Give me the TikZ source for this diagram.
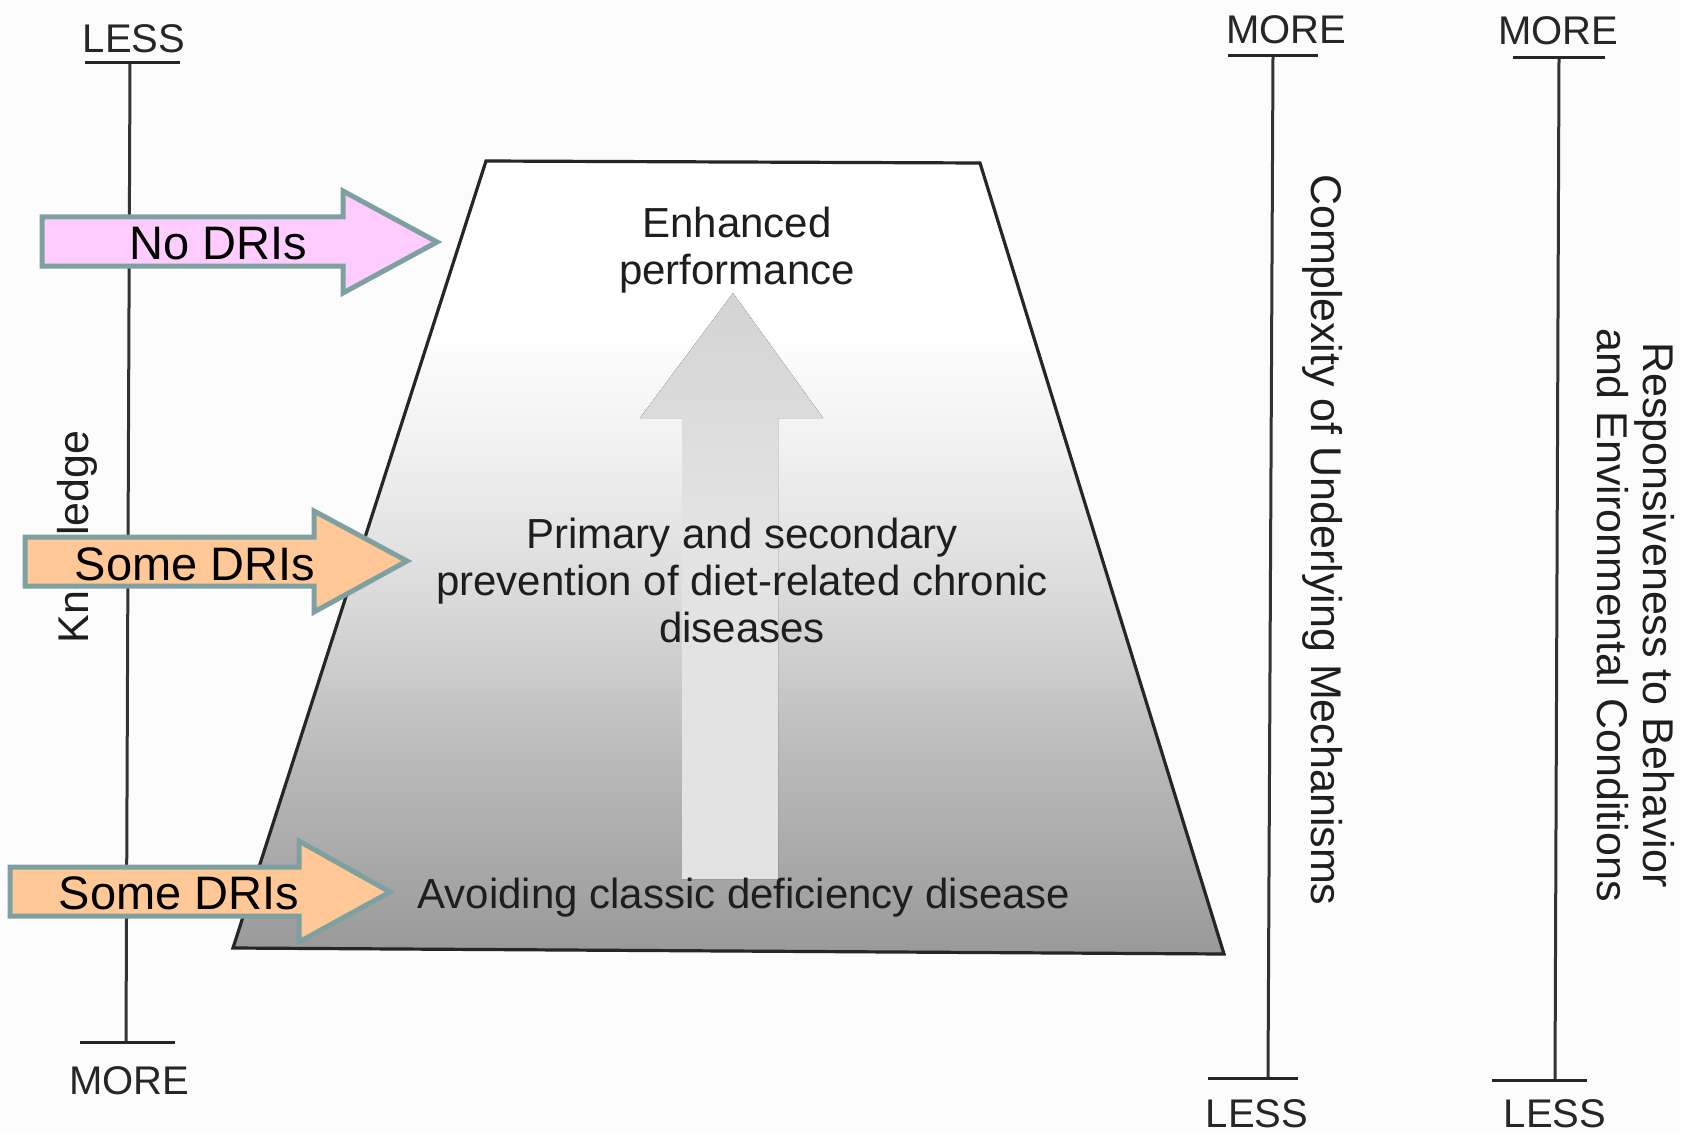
\documentclass[tikz,border=0pt]{standalone}
\usepackage{fontspec}
\setmainfont{Liberation Sans}
\definecolor{pinkfill}{HTML}{FFCCFF}
\definecolor{orangefill}{HTML}{FFC896}
\definecolor{arrowedge}{HTML}{7FA0A0}
\definecolor{inkc}{HTML}{1E1E1E}
\definecolor{paper}{HTML}{FCFCFD}
\pgfdeclareverticalshading{trapshade}{100bp}{color(0bp)=(black!40); color(25bp)=(black!40); color(37.5bp)=(black!27); color(47bp)=(black!15); color(56.5bp)=(black!6); color(64.5bp)=(white); color(100bp)=(white)}
\pgfdeclareverticalshading{upshade}{100bp}{color(0bp)=(black!11); color(25bp)=(black!11); color(55bp)=(black!11); color(75bp)=(black!17); color(100bp)=(black!17)}
\begin{document}
\begin{tikzpicture}[x=1pt,y=-1pt,
  axisline/.style={line width=3pt, draw=black!80},
  tickline/.style={line width=3pt, draw=black!85},
  endlbl/.style={font=\fontsize{40}{44}\selectfont, text=black!85, inner sep=0pt, anchor=base},
  body/.style={font=\fontsize{42}{47}\selectfont, text=inkc, align=center, inner sep=0pt},
  sidelbl/.style={font=\fontsize{43}{40}\selectfont, text=inkc, inner sep=0pt, anchor=base},
  dri/.style={font=\fontsize{47}{50}\selectfont, text=black, inner sep=0pt, anchor=base},
  blockarrow/.style={draw=arrowedge, line width=5pt, line join=miter}]
\useasboundingbox (0,0) rectangle (1681,1134);
\fill[paper] (0,0) rectangle (1681,1134);

% trapezoid
\coordinate (TL) at (486,161);
\coordinate (TR) at (980,163);
\coordinate (BR) at (1224,954);
\coordinate (BL) at (233,948);
\draw[line width=3.2pt, draw=black!85, shading=trapshade] (TL) -- (TR) -- (BR) -- (BL) -- cycle;

% faint upward arrow
\fill[shading=upshade] (682,879) -- (682,418) -- (640,418) -- (733,293) -- (823,418) -- (778,418) -- (778,879) -- cycle;

% inner texts
\node[body] (enh) at (737,250) {Enhanced\\performance};
\node[body] (prim) at (742,580) {Primary and secondary\\prevention of diet-related chronic\\diseases};
\node[body] (avoid) at (744,898) {Avoiding classic deficiency disease};

% left axis
\coordinate (LAtop) at (130,63);
\coordinate (LAbot) at (126,1042);
\draw[axisline] (LAtop) -- (LAbot);
\coordinate (LTa) at (85,63); \coordinate (LTb) at (180,63);
\draw[tickline] (LTa) -- (LTb);
\coordinate (LBa) at (80,1042); \coordinate (LBb) at (175,1042);
\draw[tickline] (LBa) -- (LBb);
\node[endlbl] (lless) at (134,53) {LESS};
\node[endlbl] (lmore) at (129,1094) {MORE};
\node[sidelbl, rotate=90] (know) at (88,537) {Knowledge};

% right axis 1
\coordinate (R1top) at (1273,56);
\coordinate (R1bot) at (1268,1078);
\draw[axisline] (R1top) -- (R1bot);
\coordinate (R1Ta) at (1228,56); \coordinate (R1Tb) at (1318,56);
\draw[tickline] (R1Ta) -- (R1Tb);
\coordinate (R1Ba) at (1208,1078); \coordinate (R1Bb) at (1298,1078);
\draw[tickline] (R1Ba) -- (R1Bb);
\node[endlbl] (r1more) at (1286,44) {MORE};
\node[endlbl] (r1less) at (1257,1127) {LESS};
\node[sidelbl, rotate=-90] (cplx) at (1311,540) {Complexity of Underlying Mechanisms};

% right axis 2
\coordinate (R2top) at (1559,58);
\coordinate (R2bot) at (1555,1080);
\draw[axisline] (R2top) -- (R2bot);
\coordinate (R2Ta) at (1513,58); \coordinate (R2Tb) at (1605,58);
\draw[tickline] (R2Ta) -- (R2Tb);
\coordinate (R2Ba) at (1492,1080); \coordinate (R2Bb) at (1587,1080);
\draw[tickline] (R2Ba) -- (R2Bb);
\node[endlbl] (r2more) at (1558,45) {MORE};
\node[endlbl] (r2less) at (1555,1127) {LESS};
\node[sidelbl, rotate=-90] (resp1) at (1643,615) {Responsiveness to Behavior};
\node[sidelbl, rotate=-90] (resp2) at (1597,615) {and Environmental Conditions};

% block arrows
\draw[blockarrow, fill=pinkfill] (42,217) -- (343,217) -- (343,191) -- (437,242) -- (343,293) -- (343,266) -- (42,266) -- cycle;
\node[dri] (nodri) at (218,259) {No DRIs};
\draw[blockarrow, fill=orangefill] (25,537) -- (314,537) -- (314,511) -- (407,561) -- (314,612) -- (314,586) -- (25,586) -- cycle;
\node[dri] (some1) at (195,580) {Some DRIs};
\draw[blockarrow, fill=orangefill] (10,867) -- (299,867) -- (299,841) -- (390,892) -- (299,942) -- (299,916) -- (10,916) -- cycle;
\node[dri] (some2) at (179,909) {Some DRIs};
\end{tikzpicture}
\end{document}
